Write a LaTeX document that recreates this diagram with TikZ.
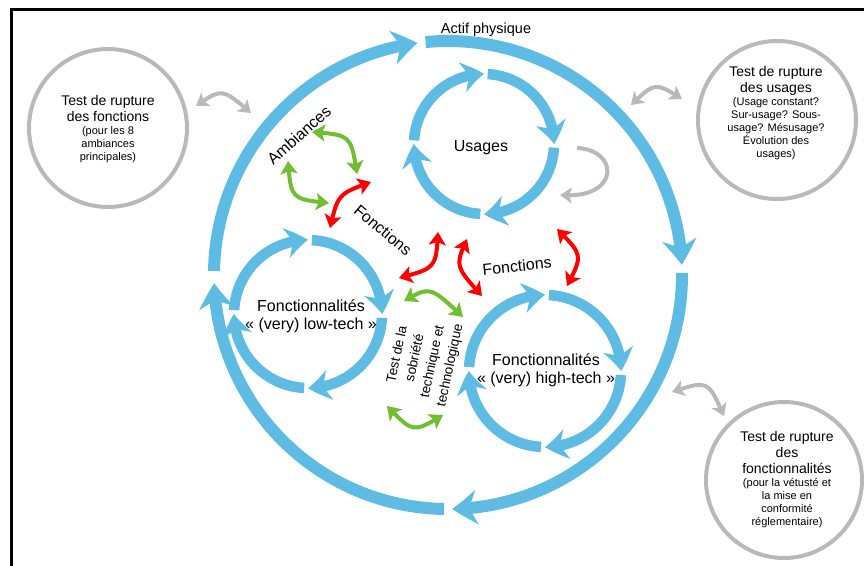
\documentclass[tikz,border=0pt]{standalone}
\usepackage{fontspec}
\setmainfont{Liberation Sans}
\usetikzlibrary{arrows.meta,bending,calc}
\definecolor{cblue}{RGB}{94,188,228}
\definecolor{cred}{RGB}{255,0,0}
\definecolor{cgreen}{RGB}{112,190,50}
\definecolor{cgray}{RGB}{185,185,185}
\begin{document}
\begin{tikzpicture}[x=1pt,y=-1pt,
  bigarc/.style={draw=cblue,line width=12pt,-{Stealth[length=25pt,width=34pt,inset=8pt,bend]}},
  smallarc/.style={draw=cblue,line width=10.5pt,-{Stealth[length=22pt,width=30pt,inset=7pt,bend]}},
  redarr/.style={draw=cred,line width=4pt,{Stealth[length=13pt,width=17pt,inset=3pt]}-{Stealth[length=13pt,width=17pt,inset=3pt]}},
  greenarr/.style={draw=cgreen,line width=4pt,{Stealth[length=13pt,width=17pt,inset=3pt]}-{Stealth[length=13pt,width=17pt,inset=3pt]}},
  grayarr/.style={draw=cgray,line width=4pt,{Stealth[length=12pt,width=16pt,inset=3pt]}-{Stealth[length=12pt,width=16pt,inset=3pt]}},
  grayone/.style={draw=cgray,line width=4pt,-{Stealth[length=12pt,width=16pt,inset=3pt]}},
  graycirc/.style={circle,draw=cgray,line width=4pt,minimum size=#1},
  lbl/.style={font=\fontsize{16}{18}\selectfont,inner sep=0pt},
  ttl/.style={font=\fontsize{14}{16}\selectfont,align=center,inner sep=0pt},
  dtl/.style={font=\fontsize{11}{13}\selectfont,align=center,inner sep=0pt}
]
\useasboundingbox (0,0) rectangle (864,565);
% frame
\draw[line width=3pt] (11,566) -- (11,9) -- (865,9);

% centres
\coordinate (oc) at (448,275);
\coordinate (us) at (484,144);
\coordinate (lt) at (308,314);
\coordinate (ht) at (545,371);

% outer ring
\draw[bigarc] (oc) ++(181:234) arc[start angle=181,end angle=262.5,radius=234];
\draw[bigarc] (oc) ++(264.5:234) arc[start angle=264.5,end angle=357.5,radius=234];
\draw[bigarc] (oc) ++(-0.5:234) arc[start angle=-0.5,end angle=89,radius=234];
\draw[bigarc] (oc) ++(91:234) arc[start angle=91,end angle=178,radius=234];

% inner rings
\foreach \c/\r in {us/70,lt/74,ht/76}{
  \foreach \a in {0,90,180,270}{
    \draw[smallarc] (\c) ++(\a+3:\r) arc[start angle=\a+3,end angle=\a+90,radius=\r];
  }
}

% gray circles
\node[graycirc=158] (gc1) at (108,128) {};
\node[graycirc=158] (gc2) at (777,120) {};
\node[graycirc=156] (gc3) at (784,480) {};

\node[ttl] (t1) at (108,108.5) {Test de rupture\\des fonctions};
\node[dtl] (d1) at (108,145) {(pour les 8\\ambiances\\principales)};
\node[ttl] (t2) at (776,80.5) {Test de rupture\\des usages};
\node[dtl] (d2) at (776,129) {(Usage constant?\\Sur-usage? Sous-\\usage? Mésusage?\\Évolution des\\usages)};
\node[ttl] (t3) at (787,452) {Test de rupture\\des\\fonctionnalités};
\node[dtl] (d3) at (787,503) {(pour la vétusté et\\la mise en\\conformité\\réglementaire)};

% labels
\node[font=\fontsize{14.5}{17}\selectfont,inner sep=0pt] (actif) at (486,30) {Actif physique};
\node[lbl] (usages) at (481,148) {Usages};
\node[lbl,align=center] (lowtech) at (311,316) {Fonctionnalités\\« (very) low-tech »};
\node[lbl,align=center] (hightech) at (546,370) {Fonctionnalités\\« (very) high-tech »};
\node[lbl,rotate=42] (amb) at (299,135) {Ambiances};
\node[lbl,rotate=-40] (fonc1) at (383,230) {Fonctions};
\node[lbl,rotate=6] (fonc2) at (517,266) {Fonctions};
\node[font=\fontsize{13.5}{18}\selectfont,align=center,inner sep=0pt,rotate=78] (sob) at (424,360) {Test de la\\sobriété\\technique et\\technologique};

% end points of the connectors
\coordinate (r1a) at (371,182); \coordinate (r1b) at (330,228);
\coordinate (r2a) at (438,232); \coordinate (r2b) at (399,278);
\coordinate (r3a) at (467,239); \coordinate (r3b) at (482,296);
\coordinate (r4a) at (557,229); \coordinate (r4b) at (567,286);
\coordinate (g1a) at (312,132); \coordinate (g1b) at (357,174);
\coordinate (g2a) at (288,161); \coordinate (g2b) at (329,203);
\coordinate (g3a) at (404,301); \coordinate (g3b) at (463,317);
\coordinate (g4a) at (387,406); \coordinate (g4b) at (443,415);
\coordinate (y1a) at (196,106); \coordinate (y1b) at (251,113);
\coordinate (y2a) at (631,105); \coordinate (y2b) at (682,99);
\coordinate (y3a) at (672,392); \coordinate (y3b) at (724,416);
\coordinate (u1a) at (577,148); \coordinate (u1b) at (560,195);

% red arrows
\draw[redarr] (r1a) .. controls (338,194) .. (r1b);
\draw[redarr] (r2a) .. controls (436,268) .. (r2b);
\draw[redarr] (r3a) .. controls (455,266) .. (r3b);
\draw[redarr] (r4a) .. controls (583,255) .. (r4b);

% green arrows
\draw[greenarr] (g1a) .. controls (351,135) .. (g1b);
\draw[greenarr] (g2a) .. controls (291,199) .. (g2b);
\draw[greenarr] (g3a) .. controls (430,286) .. (g3b);
\draw[greenarr] (g4a) .. controls (413,433) .. (g4b);

% gray arrows
\draw[grayarr] (y1a) .. controls (222,88) .. (y1b);
\draw[grayarr] (y2a) .. controls (655,82) .. (y2b);
\draw[grayarr] (y3a) .. controls (708,380) .. (y3b);
\draw[grayone] (u1a) .. controls (620,150) and (620,200) .. (u1b);
\end{tikzpicture}
\end{document}
